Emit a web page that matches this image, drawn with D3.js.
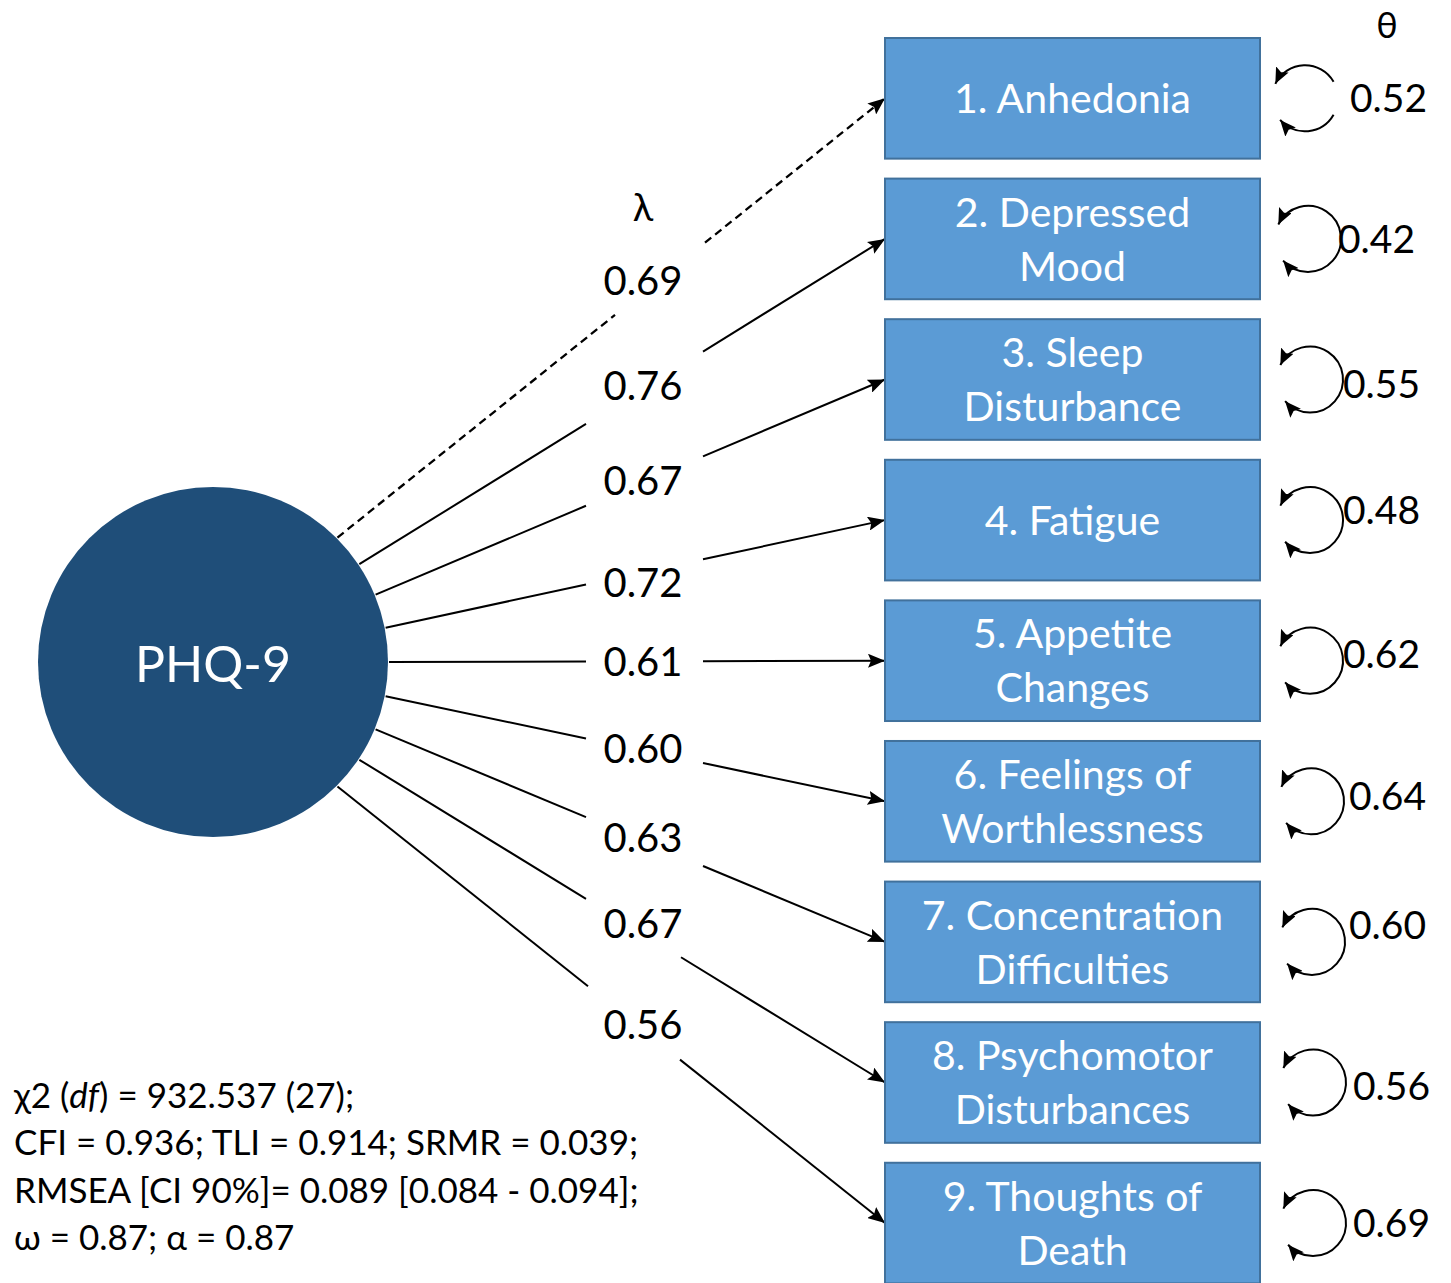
<!DOCTYPE html>
<html>
<head>
<meta charset="utf-8">
<script src="https://cdn.jsdelivr.net/npm/d3@7"></script>
<style>
  body { margin: 0; background: #fff; }
  text { font-family: Lato, "Noto Sans", sans-serif; }
</style>
</head>
<body>
<div id="graph"></div>
<script>
// data
var factor = "PHQ-9";
var items = [
	["1. Anhedonia"],
	["2. Depressed", "Mood"],
	["3. Sleep", "Disturbance"],
	["4. Fatigue"],
	["5. Appetite", "Changes"],
	["6. Feelings of", "Worthlessness"],
	["7. Concentration", "Difficulties"],
	["8. Psychomotor", "Disturbances"],
	["9. Thoughts of", "Death"]
];
var loadings = [0.69, 0.76, 0.67, 0.72, 0.61, 0.60, 0.63, 0.67, 0.56];
var residuals = [0.52, 0.42, 0.55, 0.48, 0.62, 0.64, 0.60, 0.56, 0.69];
var fixedItem = 0; // first loading drawn dashed
var fitLines = [
	[["χ2 (", ""], ["df", "i"], [") = 932.537 (27);", ""]],
	[["CFI = 0.936; TLI = 0.914; SRMR = 0.039;", ""]],
	[["RMSEA [CI 90%]= 0.089 [0.084 - 0.094];", ""]],
	[["ω = 0.87; α = 0.87", ""]]
];

// layout
var W = 1451, H = 1283;
var circ = {x: 213, y: 662, r: 176};
var boxX = 885, boxW = 375;
var gapL = [615, 586, 586, 586, 586, 586, 586, 586, 588];
var gapR = [705, 703, 703, 703, 703, 703, 703, 681, 680];
var lamDy = [-12, -3, -1, 10, 0, -2, -3, -10, -6];
var resPos = [[1350, 0], [1338, 0], [1343, 4], [1343, -10], [1343, -7], [1349, -5], [1349, -17], [1353, 3], [1353, 0]];
var arcX = [1305, 1308, 1310, 1310, 1310, 1311, 1312, 1313, 1313];

var svg = d3.select("#graph").append("svg")
	.attr("width", W)
	.attr("height", H);

var defs = svg.append("defs");
defs.append("marker")
	.attr("id", "arr")
	.attr("markerUnits", "userSpaceOnUse")
	.attr("markerWidth", 18).attr("markerHeight", 14)
	.attr("refX", 17).attr("refY", 7)
	.attr("orient", "auto")
	.append("path").attr("d", "M0,0 L17,7 L0,14 L3,7 z").attr("fill", "#000");
defs.append("marker")
	.attr("id", "arrS")
	.attr("markerUnits", "userSpaceOnUse")
	.attr("markerWidth", 17).attr("markerHeight", 14)
	.attr("refX", 16).attr("refY", 7)
	.attr("orient", "auto-start-reverse")
	.append("path").attr("d", "M0,0 L16,7 L0,14 L3,7 z").attr("fill", "#000");

var y = d3.scaleBand()
	.domain(d3.range(items.length))
	.range([38, 1283.4])
	.paddingInner(0.142)
	.paddingOuter(0);

var ang = d3.scaleLinear()
	.domain([0, items.length - 1])
	.range([-45, 45]);

function yc(i) { return y(i) + y.bandwidth() / 2; }

var paths = items.map(function (d, i) {
	var a = ang(i) * Math.PI / 180;
	var x0 = circ.x + circ.r * Math.cos(a), y0 = circ.y + circ.r * Math.sin(a);
	var x1 = boxX, y1 = yc(i);
	var at = function (x) { return y0 + (y1 - y0) * (x - x0) / (x1 - x0); };
	return {i: i, x0: x0, y0: y0, x1: x1, y1: y1, at: at};
});

// loading lines, split around the labels
var lines = svg.append("g").attr("stroke", "#000").attr("stroke-width", 2).attr("fill", "none");
paths.forEach(function (p) {
	var dash = p.i === fixedItem ? "8,5" : null;
	var sw = p.i === fixedItem ? 2.3 : 2;
	lines.append("line")
		.attr("x1", p.x0).attr("y1", p.y0)
		.attr("x2", gapL[p.i]).attr("y2", p.at(gapL[p.i]))
		.attr("stroke-width", sw)
		.attr("stroke-dasharray", dash);
	lines.append("line")
		.attr("x1", gapR[p.i]).attr("y1", p.at(gapR[p.i]))
		.attr("x2", p.x1).attr("y2", p.y1)
		.attr("stroke-width", sw)
		.attr("stroke-dasharray", dash)
		.attr("marker-end", "url(#arr)");
});

// loading labels
svg.selectAll("text.lam")
	.data(loadings)
	.enter()
		.append("text")
		.attr("class", "lam")
		.attr("x", 643)
		.attr("y", function (d, i) { return paths[i].at(643) + lamDy[i]; })
		.attr("dy", "0.36em")
		.attr("text-anchor", "middle")
		.attr("font-size", 40)
		.attr("fill", "#000")
		.text(function (d) { return d.toFixed(2); });

svg.append("text")
	.attr("x", 643).attr("y", 207).attr("dy", "0.36em")
	.attr("text-anchor", "middle").attr("font-size", 38)
	.text("λ");

// latent factor
svg.append("circle")
	.attr("cx", circ.x).attr("cy", circ.y).attr("r", 175)
	.attr("fill", "#1f4e79");
svg.append("text")
	.attr("x", circ.x).attr("y", circ.y + 2).attr("dy", "0.36em")
	.attr("text-anchor", "middle").attr("font-size", 50)
	.attr("fill", "#fff")
	.text(factor);

// item boxes
var boxes = svg.selectAll("g.box")
	.data(items)
	.enter()
		.append("g")
		.attr("class", "box");
boxes.append("rect")
	.attr("x", boxX).attr("y", function (d, i) { return y(i); })
	.attr("width", boxW).attr("height", y.bandwidth())
	.attr("fill", "#5b9bd5")
	.attr("stroke", "#41719c")
	.attr("stroke-width", 2);
boxes.each(function (d, i) {
	var g = d3.select(this);
	var n = d.length;
	d.forEach(function (t, k) {
		g.append("text")
			.attr("x", boxX + boxW / 2)
			.attr("y", yc(i) + (k - (n - 1) / 2) * 54)
			.attr("dy", "0.36em")
			.attr("text-anchor", "middle")
			.attr("font-size", 41)
			.attr("fill", "#fff")
			.text(t);
	});
});

// residual variances
var rr = 33;
function arcPath(cx, cy, a0, a1) {
	var r0 = a0 * Math.PI / 180, r1 = a1 * Math.PI / 180;
	var large = (a1 - a0) > 180 ? 1 : 0;
	return "M" + (cx + rr * Math.cos(r0)) + "," + (cy + rr * Math.sin(r0)) +
		" A" + rr + "," + rr + " 0 " + large + " 1 " + (cx + rr * Math.cos(r1)) + "," + (cy + rr * Math.sin(r1));
}
var arcs = svg.append("g").attr("stroke", "#000").attr("stroke-width", 2).attr("fill", "none");
residuals.forEach(function (v, i) {
	var cx = arcX[i], cy = yc(i);
	if (i === 0) {
		arcs.append("path").attr("d", arcPath(cx, cy, 206, 330)).attr("marker-start", "url(#arrS)");
		arcs.append("path").attr("d", arcPath(cx, cy, 30, 139)).attr("marker-end", "url(#arrS)");
	} else {
		arcs.append("path").attr("d", arcPath(cx, cy, 206, 499))
			.attr("marker-start", "url(#arrS)")
			.attr("marker-end", "url(#arrS)");
	}
});
svg.selectAll("text.res")
	.data(residuals)
	.enter()
		.append("text")
		.attr("class", "res")
		.attr("x", function (d, i) { return resPos[i][0]; })
		.attr("y", function (d, i) { return yc(i) + resPos[i][1]; })
		.attr("dy", "0.36em")
		.attr("font-size", 39)
		.text(function (d) { return d.toFixed(2); });

svg.append("text")
	.attr("x", 1387).attr("y", 25).attr("dy", "0.36em")
	.attr("text-anchor", "middle").attr("font-size", 36)
	.text("θ");

// fit statistics
var fit = svg.append("g");
fitLines.forEach(function (parts, k) {
	var t = fit.append("text")
		.attr("x", 14).attr("y", 1095 + k * 47.5).attr("dy", "0.36em")
		.attr("font-size", 35);
	parts.forEach(function (p) {
		t.append("tspan").attr("font-style", p[1] === "i" ? "italic" : null).text(p[0]);
	});
});
</script>
</body>
</html>
